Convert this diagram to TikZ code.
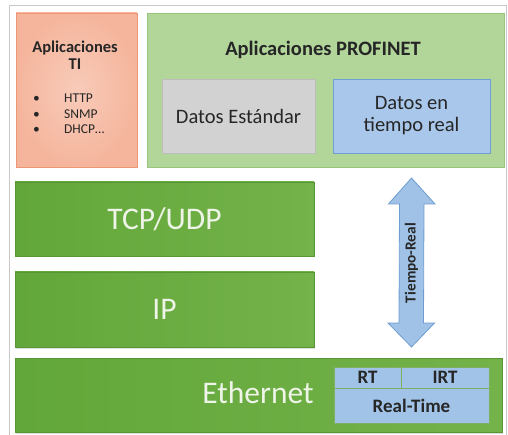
\documentclass[tikz,border=0pt]{standalone}
\usepackage{fontspec}
\setmainfont{Carlito}
\usetikzlibrary{shadows}

\definecolor{frameGray}{HTML}{C9C9C9}
\definecolor{salmonFill}{HTML}{F5B59C}
\definecolor{salmonEdge}{HTML}{EE9774}
\definecolor{paleGreen}{HTML}{B2D69A}
\definecolor{paleGreenEdge}{HTML}{97C57B}
\definecolor{greyFill}{HTML}{D2D2D2}
\definecolor{greyEdge}{HTML}{BDBDBD}
\definecolor{blueFill}{HTML}{A8C7EA}
\definecolor{blueEdge}{HTML}{6E9FD6}
\definecolor{barLeft}{HTML}{62A739}
\definecolor{barRight}{HTML}{74B24A}
\definecolor{barText}{HTML}{EEF4E8}
\definecolor{rtFill}{HTML}{A2C3E8}
\definecolor{rtEdge}{HTML}{80AE62}
\definecolor{arrowFill}{HTML}{9FC2E6}
\definecolor{arrowEdge}{HTML}{6D9DD2}
\definecolor{darkText}{HTML}{262626}

\tikzset{
  panel/.style={rectangle, inner sep=0pt, line width=0.8pt},
  tibox/.style={panel, draw=salmonEdge, inner color=salmonFill!70!white, outer color=salmonFill},
  pnbox/.style={panel, draw=paleGreenEdge, fill=paleGreen},
  stdbox/.style={panel, draw=greyEdge, fill=greyFill, text=darkText,
    font=\fontsize{20.5}{22}\selectfont},
  rtdata/.style={panel, draw=blueEdge, fill=blueFill, text=darkText, align=center,
    font=\fontsize{20.5}{22}\selectfont},
  layer/.style={panel, draw=barLeft!90!black, left color=barLeft, right color=barRight,
    text=barText, font=\fontsize{31.5}{34}\selectfont,
    drop shadow={shadow xshift=1pt, shadow yshift=-1.5pt, opacity=0.25}},
  rtcell/.style={panel, draw=rtEdge, fill=rtFill, text=darkText,
    font=\bfseries\fontsize{19}{20}\selectfont},
  heading/.style={inner sep=0pt, text=darkText, font=\bfseries\fontsize{20.5}{22}\selectfont},
  tiheading/.style={inner sep=0pt, text=darkText, align=center,
    font=\bfseries\fontsize{16.5}{17}\selectfont},
  itemlist/.style={inner sep=0pt, anchor=west, text=darkText,
    font=\fontsize{13.5}{15.5}\selectfont},
  bigarrow/.style={draw=arrowEdge, fill=arrowFill, line width=0.8pt, line join=miter},
  arrowlabel/.style={inner sep=0pt, rotate=90, text=darkText,
    font=\bfseries\fontsize{15.3}{16}\selectfont}
}

\begin{document}
\begin{tikzpicture}[x=1pt, y=-1pt]
  \useasboundingbox (0,0) rectangle (508,435);
  \begin{scope}
    \clip (0,0) rectangle (508,435);
    % outer frame
    \draw[frameGray, line width=1pt] (9,6) rectangle (506,445);
  \end{scope}

  % application layer
  \node[tibox, minimum width=121pt, minimum height=154pt] (ti) at (76.5,90) {};
  \node[tiheading] (tihead) at (75,55) {Aplicaciones\\TI};
  \node[itemlist] (tiitems) at (33,115)
    {\begin{tabular}{@{}p{31pt}@{}l@{}}\textbullet & HTTP\\ \textbullet & SNMP\\ \textbullet & DHCP\ldots\end{tabular}};

  \node[pnbox, minimum width=357pt, minimum height=154pt] (pn) at (325.5,90) {};
  \node[heading] (pnhead) at (323,50) {Aplicaciones PROFINET};
  \node[stdbox, minimum width=153pt, minimum height=74pt] (std) at (238.5,116) {Datos Estándar};
  \node[rtdata, minimum width=157pt, minimum height=74pt] (rtd) at (411.5,116) {Datos en\\tiempo real};

  % transport, network and link layers
  \node[layer, minimum width=299pt, minimum height=74pt] (tcp) at (164.5,219) {TCP/UDP};
  \node[layer, minimum width=299pt, minimum height=75pt] (ip) at (164.5,309.5) {IP};
  \node[layer, minimum width=487pt, minimum height=74pt] (eth) at (258.5,395) {};
  \node[inner sep=0pt, text=barText, font=\fontsize{31.5}{34}\selectfont] (ethtext) at (258,393) {Ethernet};

  % real-time channels
  \node[rtcell, minimum width=67pt, minimum height=21pt] (rt) at (367.5,377.5) {RT};
  \node[rtcell, minimum width=88pt, minimum height=21pt] (irt) at (445,377.5) {IRT};
  \node[rtcell, minimum width=155pt, minimum height=35pt] (realtime) at (411.5,405.5) {Real-Time};

  % real-time path through the stack
  \coordinate (tipTop) at (411.5,178);
  \coordinate (tipBot) at (411.5,347);
  \draw[bigarrow] (tipTop) -- ++(23.5,26) -- ++(-11,0) -- (423.5,323) -- ++(11,0)
    -- (tipBot) -- ++(-23.5,-24) -- ++(11,0) -- (399.5,204) -- ++(-11,0) -- cycle;
  \node[arrowlabel] (rtlabel) at (411.5,263) {Tiempo-Real};
\end{tikzpicture}
\end{document}
